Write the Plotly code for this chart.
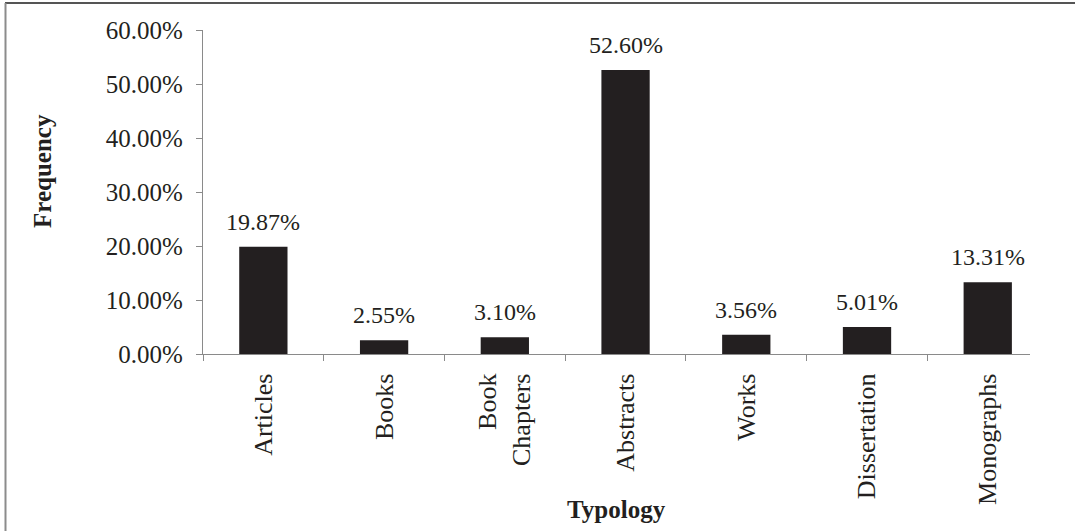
import plotly.graph_objects as go

# Publication typology shares (percent)
categories = ["Articles", "Books", "Book<br>Chapters", "Abstracts", "Works", "Dissertation", "Monographs"]
frequency = [19.87, 2.55, 3.10, 52.60, 3.56, 5.01, 13.31]
y_ticks = [0, 10, 20, 30, 40, 50, 60]

W, H = 1075, 531
ML, MR, MT, MB = 203, 45, 30, 177
PW = W - ML - MR
PH = H - MT - MB

def px_x(p):
    return (p - ML) / PW

def px_y(p):
    return (H - MB - p) / PH

FONT = "Liberation Serif, Times New Roman, serif"
INK = "#231f20"
AXIS = "#8a8a8a"

fig = go.Figure(
    go.Bar(
        x=categories,
        y=frequency,
        marker=dict(color=INK, line=dict(width=0)),
        cliponaxis=False,
    )
)

# value labels above each bar
value_labels = [
    dict(x=c, y=v, xref="x", yref="y", text=f"{v:.2f}%", showarrow=False,
         xanchor="center", yanchor="bottom", yshift=10,
         font=dict(family=FONT, size=24, color=INK))
    for c, v in zip(categories, frequency)
]

fig.update_layout(
    width=W,
    height=H,
    margin=dict(l=ML, r=MR, t=MT, b=MB, pad=0),
    paper_bgcolor="white",
    plot_bgcolor="white",
    bargap=0.6,
    showlegend=False,
    font=dict(family=FONT, color=INK),
    shapes=[
        # outer frame (top and left edges)
        dict(type="line", xref="paper", yref="paper",
             x0=px_x(5), x1=px_x(W + 5), y0=px_y(3), y1=px_y(3),
             line=dict(color="#555555", width=2)),
        dict(type="line", xref="paper", yref="paper",
             x0=px_x(5.5), x1=px_x(5.5), y0=px_y(3), y1=px_y(H + 5),
             line=dict(color="#8c8c8c", width=2)),
    ],
    annotations=value_labels + [
        dict(text="<b>Frequency</b>", xref="paper", yref="paper",
             x=px_x(42), y=px_y(171), textangle=-90, showarrow=False,
             xanchor="center", yanchor="middle",
             font=dict(family=FONT, size=25, color=INK)),
        dict(text="<b>Typology</b>", xref="paper", yref="paper",
             x=px_x(616), y=px_y(509), showarrow=False,
             xanchor="center", yanchor="middle",
             font=dict(family=FONT, size=25, color=INK)),
    ],
)

fig.update_xaxes(
    range=[-0.5, 6.35],
    showline=True,
    linecolor=AXIS,
    linewidth=1.3,
    showgrid=False,
    zeroline=False,
    tickangle=-90,
    ticks="outside",
    ticklen=6,
    tickcolor=AXIS,
    tickson="boundaries",
    tickfont=dict(family=FONT, size=26, color=INK),
    ticklabelstandoff=8,
)

fig.update_yaxes(
    range=[0, 60],
    tickvals=y_ticks,
    ticktext=[f"{v:.2f}%" for v in y_ticks],
    showline=True,
    linecolor=AXIS,
    linewidth=1.3,
    showgrid=False,
    zeroline=False,
    ticks="outside",
    ticklen=6,
    tickcolor=AXIS,
    tickfont=dict(family=FONT, size=25, color=INK),
    ticklabelstandoff=8,
)

fig.write_html("out.html")
